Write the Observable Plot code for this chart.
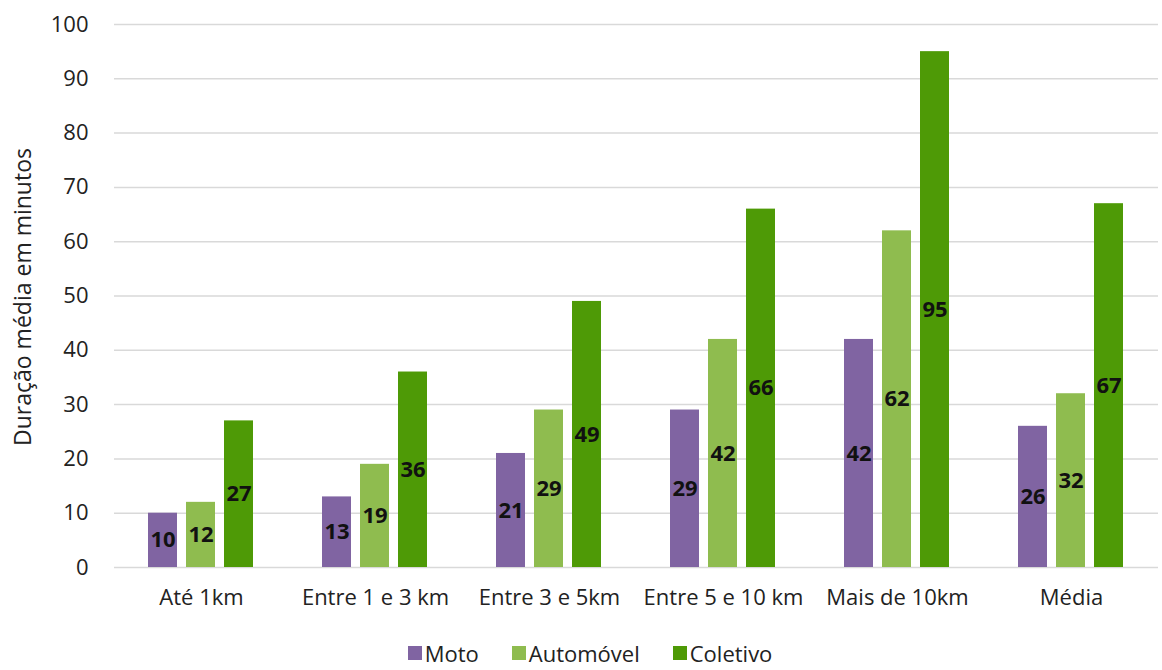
<!DOCTYPE html>
<html>
<head>
<meta charset="utf-8">
<script src="https://cdn.jsdelivr.net/npm/d3@7"></script>
<script src="https://cdn.jsdelivr.net/npm/@observablehq/plot@0.6"></script>
<style>
  body { margin: 0; background: #fff; font-family: "Open Sans", sans-serif; color: #222; }
  #wrap { position: relative; width: 1162px; }
  #ylabel { position: absolute; left: 22px; top: 297px; transform: translate(-50%, -50%) rotate(-90deg); white-space: nowrap; font-size: 23px; }
  #legend { display: flex; justify-content: center; align-items: center; gap: 33px; font-size: 22px; line-height: 26px; height: 26px; padding-left: 18px; }
  #legend span.item { display: flex; align-items: center; gap: 3px; }
  #legend span.sw { width: 14px; height: 14px; display: inline-block; }
</style>
</head>
<body>
<div id="wrap">
<div id="chart"></div>
<div id="ylabel"></div>
<div id="legend"></div>
</div>
<script>
const categories = ["Até 1km", "Entre 1 e 3 km", "Entre 3 e 5km", "Entre 5 e 10 km", "Mais de 10km", "Média"];
const series = ["Moto", "Automóvel", "Coletivo"];
const moto = [10, 13, 21, 29, 42, 26];
const automovel = [12, 19, 29, 42, 62, 32];
const coletivo = [27, 36, 49, 66, 95, 67];
const colors = ["#8064a2", "#8fbc4f", "#4e9a06"];
const yTicks = [0, 10, 20, 30, 40, 50, 60, 70, 80, 90, 100];
const yLabel = "Duração média em minutos";

const valuesBySeries = [moto, automovel, coletivo];
const data = [];
categories.forEach((c, i) => {
  series.forEach((s, j) => data.push({category: c, series: s, value: valuesBySeries[j][i]}));
});

const chart = Plot.plot({
  width: 1162,
  height: 640,
  marginLeft: 112,
  marginRight: 2,
  marginTop: 24,
  marginBottom: 73,
  style: {fontFamily: "Open Sans, sans-serif", fontSize: "22px", color: "#222", background: "#fff"},
  fx: {domain: categories, padding: 0, label: null, tickSize: 0, tickPadding: 22},
  x: {domain: series, paddingInner: 0.23, paddingOuter: 0.86, axis: null},
  y: {domain: [0, 100], ticks: yTicks, tickSize: 0, tickPadding: 26, label: null},
  color: {domain: series, range: colors},
  marks: [
    Plot.ruleY(yTicks, {stroke: "#d9d9d9", strokeWidth: 1.5}),
    Plot.barY(data, {fx: "category", x: "series", y: "value", fill: "series"}),
    Plot.text(data, {fx: "category", x: "series", y: d => d.value / 2, text: d => String(d.value), fontWeight: "bold", fontSize: 22, fill: "#111"})
  ]
});
document.getElementById("chart").appendChild(chart);
document.getElementById("ylabel").textContent = yLabel;

const legend = document.getElementById("legend");
series.forEach((s, j) => {
  const item = document.createElement("span");
  item.className = "item";
  const sw = document.createElement("span");
  sw.className = "sw";
  sw.style.background = colors[j];
  item.appendChild(sw);
  item.appendChild(document.createTextNode(s));
  legend.appendChild(item);
});
</script>
</body>
</html>
